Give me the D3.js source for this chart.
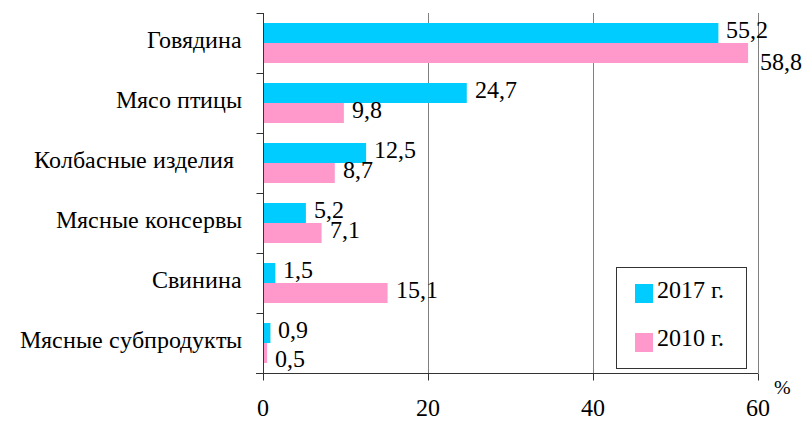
<!DOCTYPE html>
<html><head><meta charset="utf-8">
<script src="https://cdn.jsdelivr.net/npm/d3@7"></script>
<style>
@font-face{font-family:"ChartSerif";src:local("Liberation Serif"),local("LiberationSerif"),local("LiberationSerif-Regular");}
body{margin:0;background:#fff;font-family:"Liberation Serif"}
svg{display:block}
</style>
</head><body><svg id="c" width="806" height="421"></svg>
<script>
const categories = ["Говядина","Мясо птицы","Колбасные изделия","Мясные консервы","Свинина","Мясные субпродукты"];
const values2017 = [55.2,24.7,12.5,5.2,1.5,0.9];
const values2010 = [58.8,9.8,8.7,7.1,15.1,0.5];
const seriesNames = ["2017 г.","2010 г."];
const xTicks = [0,20,40,60];
const unitLabel = "%";

const colors = ["#00CCFF","#FF99CC"];
const FS = 24;
const FONT = "ChartSerif, 'Liberation Serif', 'Times New Roman'";
const svg = d3.select("#c").attr("font-family",FONT);
const x = d3.scaleLinear().domain([0,60]).range([263,758]);
const y = d3.scaleBand().domain(categories).range([13,373]).padding(0);
const ySub = d3.scaleBand().domain(seriesNames).range([10,50]).padding(0);
const loc = d3.formatLocale({decimal:",",thousands:" ",grouping:[3],currency:["",""]});
const fmt = loc.format(".1f");
function addText(parent, tx, ty, str, size, anchor){
  const t = parent.append("text").attr("x",tx).attr("y",ty)
    .style("font-family",FONT).attr("font-size",size).attr("fill","#000");
  if(anchor) t.attr("text-anchor",anchor);
  t.text(str);
  return t;
}

// grid lines
const grid = svg.append("g");
xTicks.filter(d=>d>0).forEach(d=>{
  grid.append("line").attr("x1",x(d)+0.5).attr("x2",x(d)+0.5).attr("y1",13).attr("y2",373)
    .attr("stroke","#808080").attr("stroke-width",1);
});

const seriesValues = [values2017, values2010];
const nudge = {"Говядина|1":12,"Мясные субпродукты|1":9};
const gap = {"Говядина|1":12};
const bars = svg.append("g");
const labels = svg.append("g");
seriesNames.forEach((s,si)=>{
  seriesValues[si].forEach((v,j)=>{
    const c = categories[j];
    const top = y(c)+ySub(s);
    bars.append("rect").attr("x",x(0)).attr("y",top)
      .attr("width",x(v)-x(0)).attr("height",ySub.bandwidth()).attr("fill",colors[si]);
    addText(labels, x(v)+(gap[c+"|"+si]||8), top+15+(nudge[c+"|"+si]||0), fmt(v), FS);
  });
});

// y axis (ticks at band boundaries)
const yb = d3.scaleLinear().domain([0,categories.length]).range([13,373]);
const ya = svg.append("g").attr("transform","translate(263.5,0)")
  .call(d3.axisLeft(yb).ticks(categories.length).tickSize(7).tickFormat(""));
ya.selectAll("line,path").attr("stroke","#333");
ya.select(".domain").attr("d","M0,13V373");

// category labels
const catShift = {"Колбасные изделия":-8};
const cats = svg.append("g");
categories.forEach(c=>{
  addText(cats, 242+(catShift[c]||0), y(c)+y.bandwidth()/2+4.5, c, FS, "end");
});

// x axis
const xa = svg.append("g").attr("transform","translate(0,373.5)")
  .call(d3.axisBottom(x).tickValues(xTicks).tickSize(7).tickFormat(""));
xa.selectAll("line,path").attr("stroke","#333");
xa.select(".domain").attr("d","M256,0H758");
const xl = svg.append("g");
xTicks.forEach(d=>addText(xl, x(d), 416, d3.format("d")(d), FS, "middle"));

addText(svg, 782, 394, unitLabel, 20, "middle");

// legend
const lg = svg.append("g");
lg.append("rect").attr("x",616.5).attr("y",267.5).attr("width",130).attr("height",101)
  .attr("fill","none").attr("stroke","#333");
seriesNames.forEach((s,i)=>{
  lg.append("rect").attr("x",635).attr("y",284+i*49).attr("width",18).attr("height",19).attr("fill",colors[i]);
  addText(lg, 657, 298+i*48, s, FS);
});
</script></body></html>
